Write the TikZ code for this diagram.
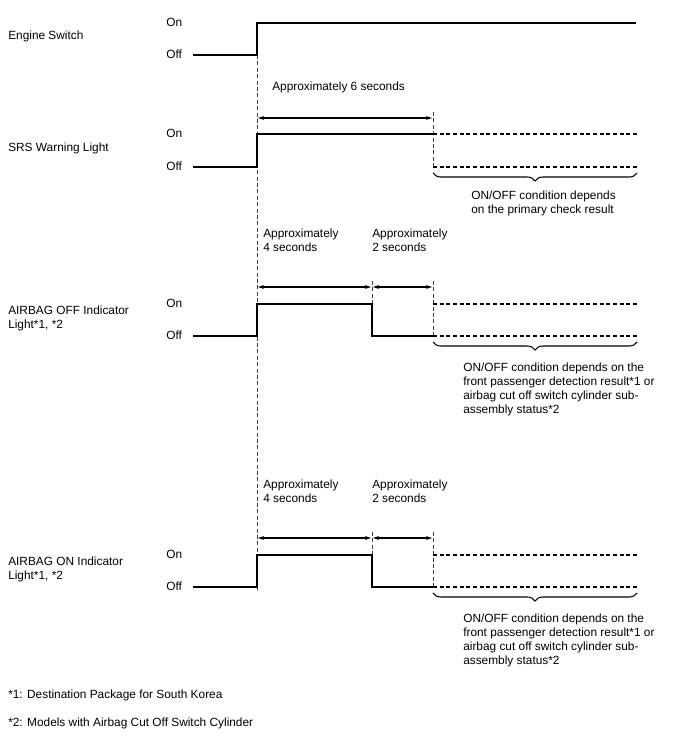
\documentclass[tikz,border=0pt]{standalone}
\usepackage{fontspec}
\setmainfont{Liberation Sans}
\usetikzlibrary{arrows.meta,decorations.pathreplacing}
\tikzset{
  txt/.style={font=\fontsize{8.9}{10.5}\selectfont, inner sep=0pt, anchor=base west, align=left},
  mtxt/.style={txt, anchor=north west},
  sig/.style={line width=1.1pt, line join=miter},
  unk/.style={line width=0.9pt, dash pattern=on 3pt off 2pt},
  guide/.style={line width=0.6pt, dash pattern=on 3pt off 1.8pt, black!75},
  dimarrow/.style={line width=0.8pt, {Latex[length=5pt,width=3pt]}-{Latex[length=5pt,width=3pt]}},
  bracestyle/.style={line width=0.8pt, decorate, decoration={brace, mirror, amplitude=6pt}}
}
\begin{document}
\begin{tikzpicture}[x=0.75pt,y=-0.75pt]
\useasboundingbox (0,0) rectangle (688,755);

% ---------------- Engine Switch ----------------
\node[txt] (esName) at (8,40) {Engine Switch};
\node[txt] (esOn) at (166,26.5) {On};
\node[txt] (esOff) at (166,58.5) {Off};
\coordinate (esA) at (193,55);
\coordinate (esB) at (257,55);
\coordinate (esC) at (257,23);
\coordinate (esD) at (636,23);
\draw[sig] (esA) -- (esB) -- (esC) -- (esD);

% main guide line at switch-on
\coordinate (gA) at (257,55);
\coordinate (gB) at (257,590);
\draw[guide] (gA) -- (gB);

% ---------------- SRS Warning Light ----------------
\node[txt] (t6) at (272,91) {Approximately 6 seconds};
\coordinate (t6a) at (257,118);
\coordinate (t6b) at (433,118);
\draw[dimarrow] (t6a) -- (t6b);
\coordinate (g6a) at (433,112);
\coordinate (g6b) at (433,167);
\draw[guide] (g6a) -- (g6b);

\node[txt] (srName) at (8,152) {SRS Warning Light};
\node[txt] (srOn) at (166,137.5) {On};
\node[txt] (srOff) at (166,170.5) {Off};
\coordinate (srA) at (193,167);
\coordinate (srB) at (257,167);
\coordinate (srC) at (257,134);
\coordinate (srD) at (433,134);
\coordinate (srE) at (637,134);
\coordinate (srF) at (433,167);
\coordinate (srG) at (637,167);
\draw[sig] (srA) -- (srB) -- (srC) -- (srD);
\draw[unk] (srD) -- (srE);
\draw[unk] (srF) -- (srG);
\coordinate (srBrA) at (433,173);
\coordinate (srBrB) at (637,173);
\draw[bracestyle] (srBrA) -- (srBrB);
\node[mtxt] (srNote) at (471,190.5) {ON/OFF condition depends\\on the primary check result};

% ---------------- AIRBAG OFF Indicator ----------------
\node[mtxt] (f4) at (263,228.5) {Approximately\\4 seconds};
\node[mtxt] (f2) at (372,228.5) {Approximately\\2 seconds};
\coordinate (fAa) at (257,287);
\coordinate (fAb) at (372,287);
\coordinate (fAc) at (433,287);
\draw[dimarrow] (fAa) -- (fAb);
\draw[dimarrow] (fAb) -- (fAc);
\coordinate (fg1a) at (372,281);
\coordinate (fg1b) at (372,304);
\draw[guide] (fg1a) -- (fg1b);
\coordinate (fg2a) at (433,281);
\coordinate (fg2b) at (433,336);
\draw[guide] (fg2a) -- (fg2b);

\node[mtxt] (fName) at (8,305.5) {AIRBAG OFF Indicator\\Light*1, *2};
\node[txt] (fOn) at (166,307.5) {On};
\node[txt] (fOff) at (166,339.5) {Off};
\coordinate (fA) at (193,336);
\coordinate (fB) at (257,336);
\coordinate (fC) at (257,304);
\coordinate (fD) at (372,304);
\coordinate (fE) at (372,336);
\coordinate (fF) at (433,336);
\coordinate (fG) at (433,304);
\coordinate (fH) at (637,304);
\coordinate (fI) at (637,336);
\draw[sig] (fA) -- (fB) -- (fC) -- (fD) -- (fE) -- (fF);
\draw[unk] (fG) -- (fH);
\draw[unk] (fF) -- (fI);
\coordinate (fBrA) at (433,342);
\coordinate (fBrB) at (637,342);
\draw[bracestyle] (fBrA) -- (fBrB);
\node[mtxt] (fNote) at (463,362.5) {ON/OFF condition depends on the\\front passenger detection result*1 or\\airbag cut off switch cylinder sub-\\assembly status*2};

% ---------------- AIRBAG ON Indicator ----------------
\node[mtxt] (n4) at (263,479.5) {Approximately\\4 seconds};
\node[mtxt] (n2) at (372,479.5) {Approximately\\2 seconds};
\coordinate (nAa) at (257,538);
\coordinate (nAb) at (372,538);
\coordinate (nAc) at (433,538);
\draw[dimarrow] (nAa) -- (nAb);
\draw[dimarrow] (nAb) -- (nAc);
\coordinate (ng1a) at (372,532);
\coordinate (ng1b) at (372,555);
\draw[guide] (ng1a) -- (ng1b);
\coordinate (ng2a) at (433,532);
\coordinate (ng2b) at (433,587);
\draw[guide] (ng2a) -- (ng2b);

\node[mtxt] (nName) at (8,556.5) {AIRBAG ON Indicator\\Light*1, *2};
\node[txt] (nOn) at (166,558.5) {On};
\node[txt] (nOff) at (166,590.5) {Off};
\coordinate (nA) at (193,587);
\coordinate (nB) at (257,587);
\coordinate (nC) at (257,555);
\coordinate (nD) at (372,555);
\coordinate (nE) at (372,587);
\coordinate (nF) at (433,587);
\coordinate (nG) at (433,555);
\coordinate (nH) at (637,555);
\coordinate (nI) at (637,587);
\draw[sig] (nA) -- (nB) -- (nC) -- (nD) -- (nE) -- (nF);
\draw[unk] (nG) -- (nH);
\draw[unk] (nF) -- (nI);
\coordinate (nBrA) at (433,593);
\coordinate (nBrB) at (637,593);
\draw[bracestyle] (nBrA) -- (nBrB);
\node[mtxt] (nNote) at (463,613.5) {ON/OFF condition depends on the\\front passenger detection result*1 or\\airbag cut off switch cylinder sub-\\assembly status*2};

% ---------------- Footnotes ----------------
\node[txt] (fn1) at (8,698) {*1: Destination Package for South Korea};
\node[txt] (fn2) at (8,726) {*2: Models with Airbag Cut Off Switch Cylinder};
\end{tikzpicture}
\end{document}
